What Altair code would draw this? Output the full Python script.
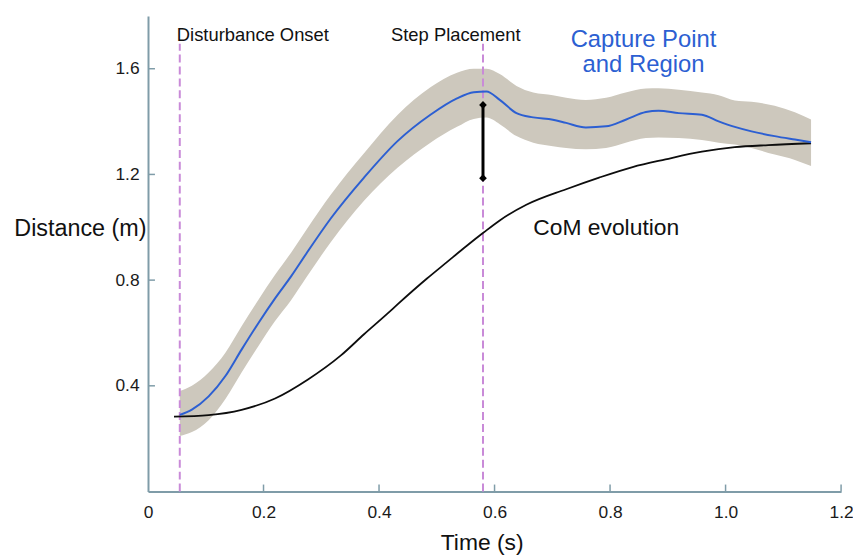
import altair as alt
import pandas as pd

# ---------------- data ----------------
# Capture point (blue line) and its region (grey band)
cp_t = [0.055, 0.076, 0.105, 0.134, 0.162, 0.191, 0.22, 0.248, 0.274, 0.317,
        0.374, 0.432, 0.489, 0.535, 0.564, 0.586, 0.609, 0.638, 0.667, 0.701,
        0.724, 0.758, 0.793, 0.827, 0.862, 0.884, 0.919, 0.959, 0.988, 1.016,
        1.045, 1.085, 1.12, 1.148]
cp_d = [0.29, 0.31, 0.36, 0.437, 0.537, 0.637, 0.731, 0.815, 0.900, 1.035,
        1.188, 1.326, 1.426, 1.488, 1.511, 1.514, 1.482, 1.432, 1.416, 1.407,
        1.395, 1.378, 1.382, 1.407, 1.436, 1.441, 1.432, 1.426, 1.401, 1.38,
        1.363, 1.345, 1.332, 1.322]
band_hi = [0.38, 0.40, 0.45, 0.525, 0.625, 0.725, 0.82, 0.905, 0.99, 1.125,
           1.28, 1.425, 1.53, 1.585, 1.60, 1.60, 1.58, 1.535, 1.51, 1.50,
           1.49, 1.482, 1.49, 1.51, 1.525, 1.526, 1.52, 1.51, 1.50, 1.48,
           1.475, 1.46, 1.435, 1.408]
band_lo = [0.21, 0.225, 0.27, 0.35, 0.45, 0.55, 0.645, 0.725, 0.81, 0.945,
           1.10, 1.225, 1.32, 1.38, 1.41, 1.415, 1.39, 1.345, 1.32, 1.307,
           1.30, 1.295, 1.30, 1.32, 1.338, 1.34, 1.338, 1.33, 1.32, 1.313,
           1.30, 1.275, 1.255, 1.232]

# Centre of mass evolution (black line)
com_t = [0.045, 0.105, 0.162, 0.22, 0.277, 0.334, 0.374, 0.414, 0.432, 0.483,
         0.518, 0.552, 0.581, 0.609, 0.655, 0.724, 0.781, 0.839, 0.896, 0.959,
         1.016, 1.074, 1.148]
com_d = [0.283, 0.289, 0.309, 0.352, 0.424, 0.515, 0.595, 0.672, 0.708, 0.806,
         0.869, 0.93, 0.98, 1.026, 1.085, 1.144, 1.188, 1.228, 1.257, 1.286,
         1.303, 1.311, 1.318]

# Events (dashed lines)
event_t = [0.055, 0.58]
event_top = [1.695, 1.695]

# Double arrow at step placement
arrow_t = [0.58]
arrow_lo = [1.186]
arrow_hi = [1.463]

x_tick_values = [0.0, 0.2, 0.4, 0.6, 0.8, 1.0, 1.2]
y_tick_values = [0.4, 0.8, 1.2, 1.6]

# ---------------- styling ----------------
W, H = 698, 479
FONT = "Liberation Sans"
AXIS_COLOR = "#7f9ca8"
BLUE = "#2c5fd2"
BAND = "#cdc8bd"
DASH = "#c98ad8"

cp = pd.DataFrame({"t": cp_t, "d": cp_d, "hi": band_hi, "lo": band_lo})
com = pd.DataFrame({"t": com_t, "d": com_d})
events = pd.DataFrame({"t": event_t, "d": [0.0] * len(event_t), "top": event_top})
arrow = pd.DataFrame({"t": arrow_t, "d": arrow_lo, "hi": arrow_hi})
arrow_ends = pd.DataFrame({"t": arrow_t * 2, "d": arrow_lo + arrow_hi})
xticks = pd.DataFrame({"t": x_tick_values[1:]})
yticks = pd.DataFrame({"d": y_tick_values})

xs = alt.Scale(domain=[0, 1.2], nice=False, zero=False)
ys = alt.Scale(domain=[0, 1.8], nice=False, zero=False)

x_axis = alt.Axis(
    values=x_tick_values,
    labelExpr="datum.value == 0 ? '0' : format(datum.value, '.1f')",
    ticks=False, tickSize=0, grid=False,
    labelFont=FONT, labelFontSize=17.5, labelColor="#1a1a1a",
    labelBaseline="middle", labelPadding=21, labelFlush=False,
    domainColor=AXIS_COLOR, domainWidth=2,
    titleFont=FONT, titleFontSize=23, titleFontWeight="normal",
    titleColor="#111111", titleX=336, titleY=51, titleAlign="center",
    titleBaseline="middle",
)
y_axis = alt.Axis(
    values=y_tick_values, format=".1f",
    ticks=False, tickSize=0, grid=False,
    labelFont=FONT, labelFontSize=17.5, labelColor="#1a1a1a",
    labelPadding=9,
    domainColor=AXIS_COLOR, domainWidth=2,
    titleFont=FONT, titleFontSize=23.5,
    titleFontWeight="normal", titleColor="#111111", titleAngle=0,
    titleAlign="right", titleBaseline="middle", titleX=-2, titleY=214,
)


def X(field="t"):
    return alt.X(f"{field}:Q", scale=xs, axis=x_axis, title="Time (s)")


def Y(field="d"):
    return alt.Y(f"{field}:Q", scale=ys, axis=y_axis, title="Distance (m)")


band = alt.Chart(cp).mark_area(color=BAND, opacity=1, interpolate="monotone").encode(
    x=X(), y=Y("lo"), y2="hi:Q",
)

cp_line = alt.Chart(cp).mark_line(color=BLUE, strokeWidth=2, interpolate="monotone").encode(
    x=X(), y=Y(),
)

com_line = alt.Chart(com).mark_line(color="#0d0d0d", strokeWidth=1.8, interpolate="monotone").encode(
    x=X(), y=Y(),
)

event_lines = alt.Chart(events).mark_rule(color=DASH, strokeWidth=2, strokeDash=[8, 4]).encode(
    x=X(), y=Y(), y2="top:Q",
)

arrow_rule = alt.Chart(arrow).mark_rule(color="#000000", strokeWidth=3).encode(
    x=X(), y=Y(), y2="hi:Q",
)
arrow_heads = alt.Chart(arrow_ends).mark_point(
    shape="diamond", filled=True, color="#000000", size=60, opacity=1
).encode(x=X(), y=Y())

x_tick_marks = alt.Chart(xticks).mark_rule(color=AXIS_COLOR, strokeWidth=1.5).encode(
    x=X(), y=alt.value(H), y2=alt.value(H - 7),
)
y_tick_marks = alt.Chart(yticks).mark_rule(color=AXIS_COLOR, strokeWidth=1.5).encode(
    y=Y(), x=alt.value(0), x2=alt.value(7),
)


def label(text, x, y, size, color="#111111", align="left"):
    return alt.Chart(pd.DataFrame({"label": [text]})).mark_text(
        font=FONT, fontSize=size, color=color, align=align, baseline="middle"
    ).encode(x=alt.value(x), y=alt.value(y), text="label:N")


labels = [
    label("Disturbance Onset", 29, 19, 18.5),
    label("Step Placement", 310, 19, 18.5, align="center"),
    label("Capture Point", 499, 24, 24, color=BLUE, align="center"),
    label("and Region", 499, 50, 24, color=BLUE, align="center"),
    label("CoM evolution", 388, 214, 23),
]

chart = alt.layer(
    band, event_lines, com_line, cp_line, arrow_rule, arrow_heads,
    x_tick_marks, y_tick_marks, *labels
).properties(
    width=W, height=H,
    autosize=alt.AutoSizeParams(type="none"),
    padding={"left": 141, "top": 6, "right": 12, "bottom": 62},
    background="white",
).configure_view(stroke=None)

chart.save("out.html", embed_options={"renderer": "svg", "actions": False})
